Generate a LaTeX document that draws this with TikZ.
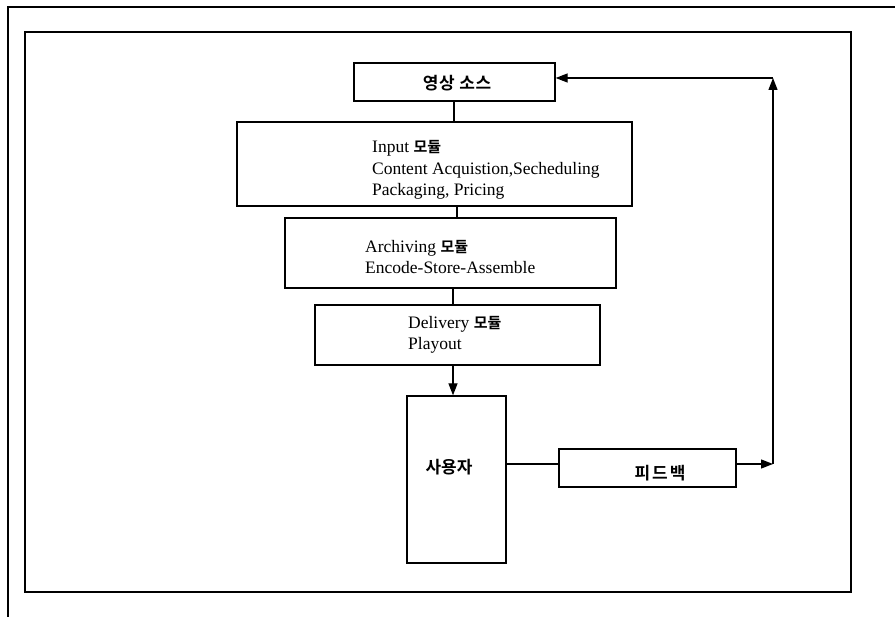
\documentclass[tikz,border=0pt]{standalone}
\usepackage{fontspec}
\setmainfont{Liberation Serif}
\newfontfamily\kr{Noto Sans CJK KR Bold}
\usetikzlibrary{arrows.meta}
\begin{document}
\begin{tikzpicture}[x=1pt,y=-1pt,
  box/.style={draw,line width=1.3pt,inner sep=0pt},
  txt/.style={anchor=west,inner sep=0pt,align=left,font=\fontsize{17.5}{21.5}\selectfont},
  ktxt/.style={inner sep=0pt,font=\fontsize{17}{20}\selectfont\kr},
  conn/.style={line width=1.3pt},
  arr/.style={line width=1.3pt,-{Triangle[length=12pt,width=9pt]}}]
\useasboundingbox (0,0) rectangle (895,617);
% outer frame
\draw[line width=1.4pt] (895,7) -- (8,7) -- (8,617);
% inner frame
\draw[line width=1.4pt] (25,32) rectangle (851,592);
% boxes
\node[box,minimum width=201pt,minimum height=38pt] (src) at (454.5,82) {};
\node[ktxt,font=\fontsize{17}{20}\selectfont\kr\addfontfeature{LetterSpace=4}] at (457,83) {영상 소스};
\node[box,minimum width=395pt,minimum height=84pt] (input) at (434.5,164) {};
\node[txt] (inputtxt) at (372,170) {Input {\kr\fontsize{15}{20}\selectfont 모듈}\\Content Acquistion,Secheduling\\Packaging, Pricing};
\node[box,minimum width=331pt,minimum height=70pt] (arch) at (450.5,253) {};
\node[txt] (archtxt) at (365,257) {Archiving {\kr\fontsize{15}{20}\selectfont 모듈}\\Encode-Store-Assemble};
\node[box,minimum width=285pt,minimum height=60pt] (deliv) at (457.5,335) {};
\node[txt] (delivtxt) at (408,335) {Delivery {\kr\fontsize{15}{20}\selectfont 모듈}\\Playout};
\node[box,minimum width=99pt,minimum height=167pt] (user) at (456.5,479.5) {};
\node[ktxt] at (449,467) {사용자};
\node[box,minimum width=177pt,minimum height=38pt] (fb) at (647.5,468) {};
\node[ktxt,font=\fontsize{17}{20}\selectfont\kr\addfontfeature{LetterSpace=12}] at (660,473) {피드백};
% connectors
\coordinate (c1) at (773,464);
\coordinate (c2) at (773,78);
\draw[conn] (src.south -| 454,0) -- (input.north -| 454,0);
\draw[conn] (input.south -| 457,0) -- (arch.north -| 457,0);
\draw[conn] (arch.south -| 453,0) -- (deliv.north -| 453,0);
\draw[arr] (deliv.south -| 453,0) -- (user.north -| 453,0);
\draw[conn] (user.east |- 0,464) -- (fb.west |- 0,464);
\draw[arr] (fb.east |- c1) -- (c1);
\draw[arr] (c1) -- (c2);
\draw[arr] (c2) -- (src.east |- c2);
\end{tikzpicture}
\end{document}
